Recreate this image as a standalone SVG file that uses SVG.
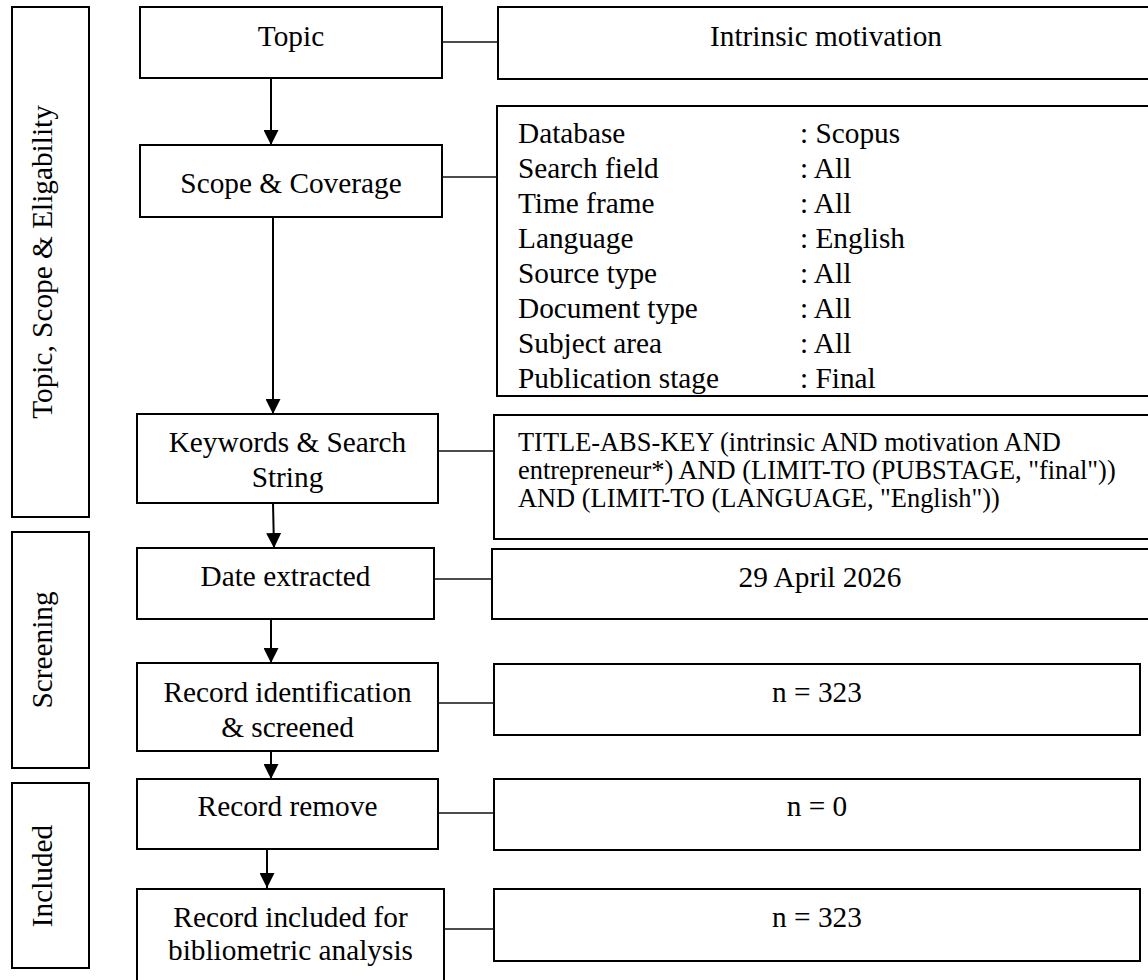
<svg xmlns="http://www.w3.org/2000/svg" width="1148" height="980" viewBox="0 0 1148 980">
<style>
.box{fill:#fff;stroke:#000;stroke-width:2}
.t{font-family:"Liberation Serif","Times New Roman",serif;font-size:29.3px;fill:#000}
.c{text-anchor:middle}
.s{font-size:26.4px}
.conn{stroke:#111;stroke-width:1.3;fill:none}
.arr{stroke:#000;stroke-width:2;fill:none;marker-end:url(#ah)}
</style>
<defs>
<marker id="ah" viewBox="0 0 10 10" refX="10" refY="5" markerWidth="15" markerHeight="15" markerUnits="userSpaceOnUse" orient="auto">
<path d="M0,0 L10,5 L0,10 z" fill="#000"/>
</marker>
</defs>
<rect width="1148" height="980" fill="#fff"/>
<g id="phase-topic"><rect class="box" x="12" y="7" width="77" height="510"/><text class="t c" transform="translate(52,262) rotate(-90)">Topic, Scope &amp; Eligability</text></g>
<g id="phase-screening"><rect class="box" x="12" y="532" width="77" height="236"/><text class="t c" transform="translate(52,650) rotate(-90)">Screening</text></g>
<g id="phase-included"><rect class="box" x="12" y="783" width="77" height="185"/><text class="t c" transform="translate(52,876) rotate(-90)">Included</text></g>

<g id="topic"><rect class="box" x="140" y="7" width="302" height="71"/><text class="t c" x="291" y="46">Topic</text></g>
<g id="scope"><rect class="box" x="140" y="145" width="302" height="72"/><text class="t c" x="291" y="193">Scope &amp; Coverage</text></g>
<g id="keywords"><rect class="box" x="137" y="414" width="301" height="89"/><text class="t c" x="287.5" y="452">Keywords &amp; Search</text><text class="t c" x="287.5" y="487">String</text></g>
<g id="date"><rect class="box" x="137" y="548" width="297" height="71"/><text class="t c" x="285.5" y="586">Date extracted</text></g>
<g id="record-id"><rect class="box" x="137" y="663" width="301" height="88"/><text class="t c" x="287.5" y="702">Record identification</text><text class="t c" x="287.5" y="737">&amp; screened</text></g>
<g id="record-remove"><rect class="box" x="137" y="779" width="301" height="70"/><text class="t c" x="287.5" y="816">Record remove</text></g>
<g id="record-included"><rect class="box" x="137" y="889" width="307" height="100"/><text class="t c" x="290.5" y="927">Record included for</text><text class="t c" x="290.5" y="960">bibliometric analysis</text></g>

<g id="intrinsic"><rect class="box" x="498" y="7" width="656" height="72"/><text class="t c" x="826" y="46">Intrinsic motivation</text></g>
<g id="scope-detail"><rect class="box" x="497" y="106" width="657" height="290"/>
<text class="t" x="518" y="143">Database</text><text class="t" x="800" y="143">: Scopus</text>
<text class="t" x="518" y="178">Search field</text><text class="t" x="800" y="178">: All</text>
<text class="t" x="518" y="213">Time frame</text><text class="t" x="800" y="213">: All</text>
<text class="t" x="518" y="248">Language</text><text class="t" x="800" y="248">: English</text>
<text class="t" x="518" y="283">Source type</text><text class="t" x="800" y="283">: All</text>
<text class="t" x="518" y="318">Document type</text><text class="t" x="800" y="318">: All</text>
<text class="t" x="518" y="353">Subject area</text><text class="t" x="800" y="353">: All</text>
<text class="t" x="518" y="388">Publication stage</text><text class="t" x="800" y="388">: Final</text>
</g>
<g id="search-string"><rect class="box" x="494" y="415" width="660" height="124"/>
<text class="t s" x="518" y="451">TITLE-ABS-KEY (intrinsic AND motivation AND</text>
<text class="t s" x="518" y="479">entrepreneur*) AND (LIMIT-TO (PUBSTAGE, "final"))</text>
<text class="t s" x="518" y="507">AND (LIMIT-TO (LANGUAGE, "English"))</text>
</g>
<g id="date-value"><rect class="box" x="492" y="549" width="662" height="70"/><text class="t c" x="820" y="587">29 April 2026</text></g>
<g id="n-identified"><rect class="box" x="494" y="664" width="646" height="71"/><text class="t c" x="817" y="702">n = 323</text></g>
<g id="n-removed"><rect class="box" x="494" y="779" width="646" height="71"/><text class="t c" x="817" y="816">n = 0</text></g>
<g id="n-included"><rect class="box" x="494" y="889" width="646" height="72"/><text class="t c" x="817" y="927">n = 323</text></g>

<g id="connectors">
<line class="conn" x1="442" y1="42" x2="498" y2="42"/>
<line class="conn" x1="442" y1="177" x2="497" y2="177"/>
<line class="conn" x1="438" y1="451" x2="494" y2="451"/>
<line class="conn" x1="434" y1="579" x2="492" y2="579"/>
<line class="conn" x1="438" y1="703" x2="494" y2="703"/>
<line class="conn" x1="438" y1="813" x2="494" y2="813"/>
<line class="conn" x1="444" y1="929" x2="494" y2="929"/>
<line class="arr" x1="271" y1="78" x2="271" y2="145"/>
<line class="arr" x1="273" y1="217" x2="273" y2="414"/>
<line class="arr" x1="273" y1="503" x2="274" y2="548"/>
<line class="arr" x1="271" y1="619" x2="271" y2="663"/>
<line class="arr" x1="271" y1="751" x2="271" y2="779"/>
<line class="arr" x1="267" y1="849" x2="267" y2="888"/>
</g>
</svg>
